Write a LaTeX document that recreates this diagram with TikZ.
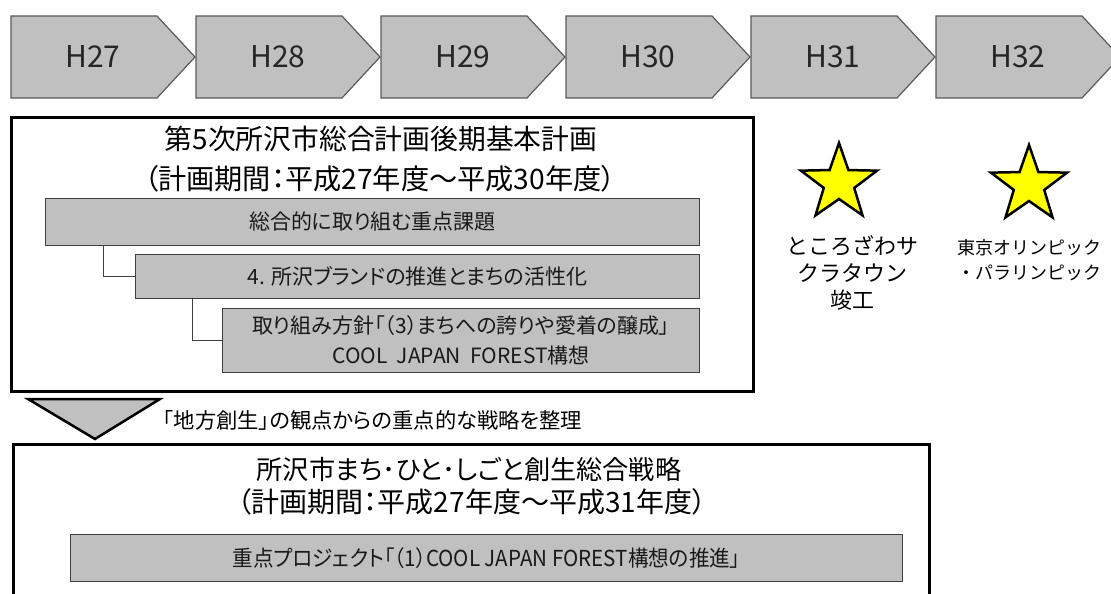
\documentclass[tikz,border=0pt]{standalone}
\usepackage{fontspec}
\setmainfont{Noto Sans CJK JP}
\newfontfamily\jpp[RawFeature=+palt]{Noto Sans CJK JP}
\usetikzlibrary{shapes.geometric}
\definecolor{boxgray}{HTML}{C0C0C0}
\definecolor{edgegray}{HTML}{5A5A5A}
\definecolor{staryellow}{HTML}{FFFF00}
\tikzset{
  chev/.style={fill=boxgray,draw=edgegray,line width=1.2pt,line join=miter},
  chevlabel/.style={font=\fontsize{30}{30}\selectfont,text=black!85,inner sep=0pt},
  bigbox/.style={draw=black,line width=3pt,fill=white,rectangle,inner sep=0pt,anchor=north west},
  graybox/.style={draw=black!75,line width=1pt,fill=boxgray,rectangle,inner sep=0pt,anchor=north west},
  title/.style={inner sep=0pt},
  boxtext/.style={font=\jpp\fontsize{21}{30}\selectfont,inner sep=0pt,align=center,text=black!90},
  starshape/.style={star,star points=5,star point ratio=2.5,minimum size=80pt,inner sep=0pt,fill=staryellow,draw=black,line width=2.5pt},
  starlabel/.style={inner sep=0pt,align=center},
  link/.style={draw=black!75,line width=1pt},
}
\begin{document}
\begin{tikzpicture}[x=1pt,y=-1pt]
\useasboundingbox (0,0) rectangle (1111,594);
\clip (0,0) rectangle (1111,594);
% timeline chevrons
\foreach \l/\lab/\nm in {11/H27/h27,196/H28/h28,381/H29/h29,566/H30/h30,751/H31/h31,936/H32/h32}{
  \draw[chev] (\l,16) -- ++(146,0) -- ++(38,41) -- ++(-38,41) -- ++(-146,0) -- cycle;
  \node[chevlabel] (\nm) at (\l+82,57) {\lab};
}
% upper plan box
\node[bigbox,minimum width=742pt,minimum height=274pt] (plan) at (10,116) {};
\node[title,font=\jpp\fontsize{27.8}{28}\selectfont] (plantitle) at (381,139) {第5次所沢市総合計画後期基本計画};
\node[title,font=\jpp\fontsize{28.2}{28}\selectfont] (planperiod) at (380,179) {（計画期間：平成27年度～平成30年度）};
\node[graybox,minimum width=654pt,minimum height=47pt] (g1) at (45,198) {};
\node[boxtext] (g1t) at (g1.center) {総合的に取り組む重点課題};
\node[graybox,minimum width=564pt,minimum height=44pt] (g2) at (135,254) {};
\node[boxtext] (g2t) at (g2.center) {4. 所沢ブランドの推進とまちの活性化};
\node[graybox,minimum width=477pt,minimum height=64pt] (g3) at (222,308) {};
\node[boxtext] (g3t) at (g3.center) {取り組み方針「（3）まちへの誇りや愛着の醸成」\\COOL\ \ JAPAN\ \ FOREST構想};
\draw[link] ([xshift=58pt]g1.south west) |- (g2.west);
\draw[link] ([xshift=57pt]g2.south west) |- (g3.west);
% stars
\node[starshape] (s1) at (839,183) {};
\node[starshape] (s2) at (1029,185) {};
\node[starlabel,font=\fontsize{22}{27}\selectfont] (s1t) at (852,273) {ところざわサ\\クラタウン\\竣工};
\node[starlabel,font=\fontsize{18}{25}\selectfont] (s2t) at (1029,260) {東京オリンピック\\・パラリンピック};
% down arrow
\draw[fill=boxgray,draw=black,line width=2.5pt,line join=miter] (28,399) -- (160,399) -- (95,439) -- cycle;
\node[anchor=west,inner sep=0pt,font=\jpp\fontsize{21.3}{21}\selectfont] (arrowtext) at (163,420) {「地方創生」の観点からの重点的な戦略を整理};
% lower strategy box
\node[bigbox,minimum width=916pt,minimum height=190pt] (strat) at (12,443) {};
\node[title,font=\jpp\fontsize{26.2}{27}\selectfont] (strattitle) at (469,470) {所沢市まち･ひと･しごと創生総合戦略};
\node[title,font=\jpp\fontsize{28}{28}\selectfont] (stratperiod) at (472,502) {（計画期間：平成27年度～平成31年度）};
\node[graybox,minimum width=832pt,minimum height=47pt] (g4) at (70,534) {};
\node[boxtext,font=\jpp\fontsize{22}{22}\selectfont] (g4t) at (g4.center) {\scalebox{0.935}[1]{重点プロジェクト「（1）COOL JAPAN FOREST構想の推進」}};
\end{tikzpicture}
\end{document}
